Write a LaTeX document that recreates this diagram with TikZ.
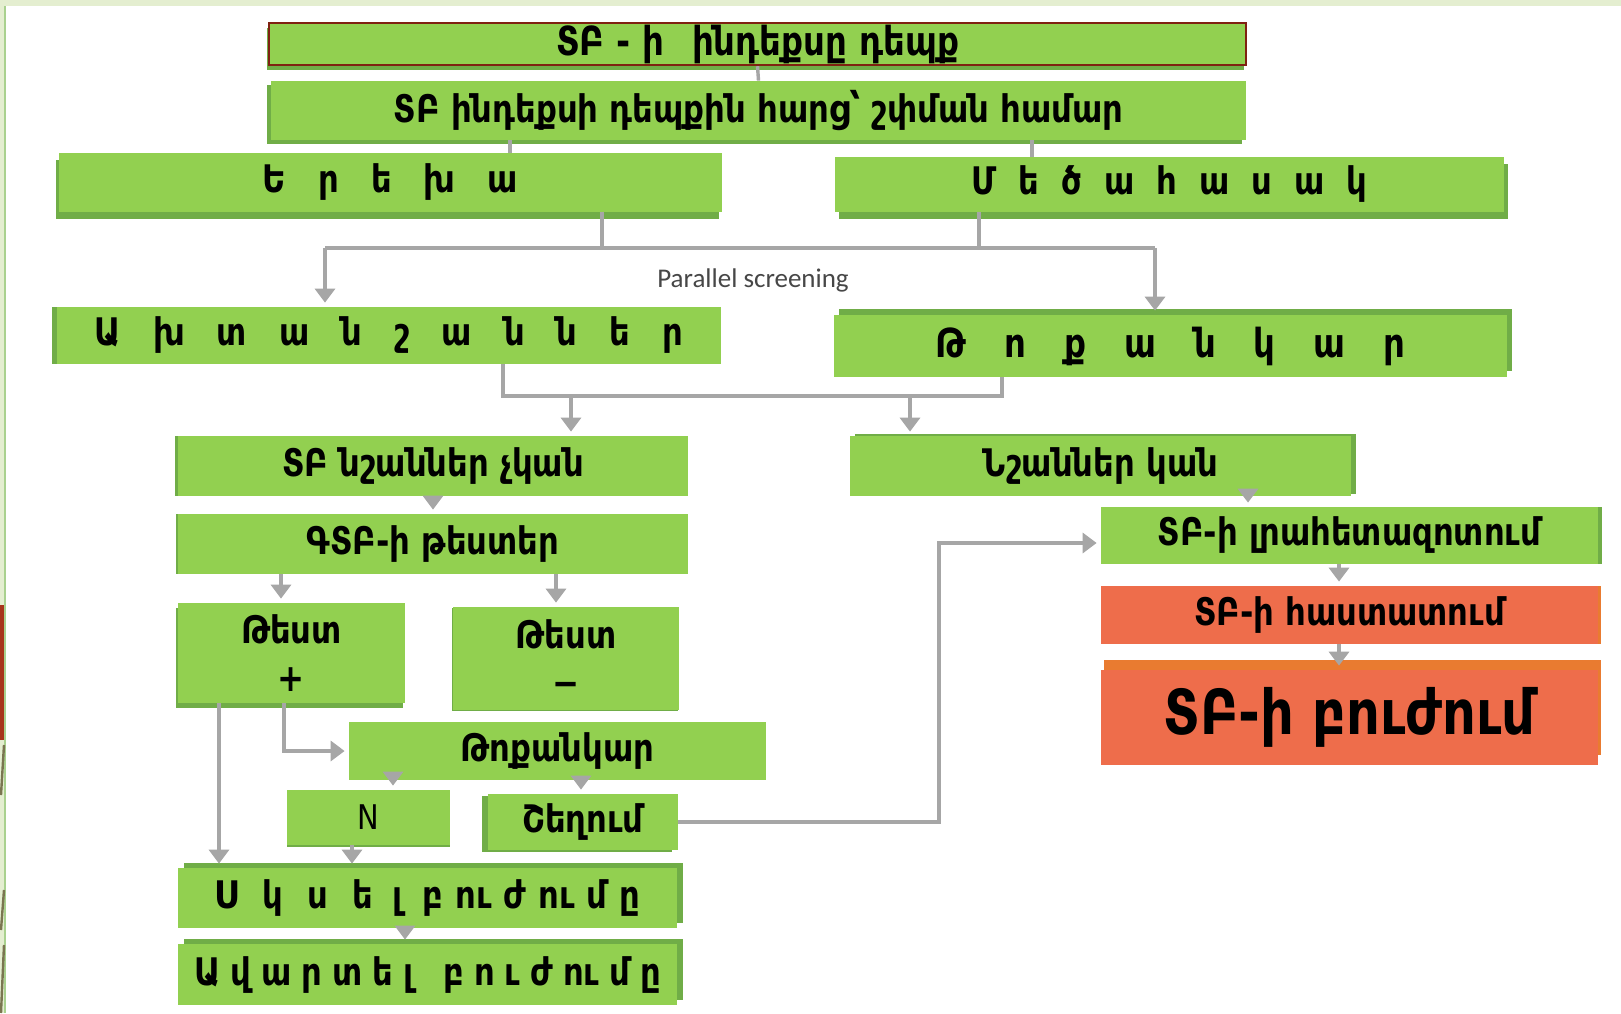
\documentclass[tikz,border=0pt]{standalone}
\usepackage{fontspec}
\usetikzlibrary{arrows.meta,positioning,calc,shadows}
\newfontfamily\armfont{DejaVu Sans}[FakeStretch=0.85]
\newfontfamily\capfont{Carlito}
\definecolor{tbgreen}{HTML}{92D050}
\definecolor{tbgreendk}{HTML}{70AD47}
\definecolor{tbred}{HTML}{EE6D4B}
\definecolor{tbredstrip}{HTML}{E97B30}
\definecolor{tbframe}{HTML}{7F2111}
\definecolor{linkgray}{HTML}{A6A6A6}
\definecolor{slidebg}{HTML}{E4EED0}
\definecolor{slideline}{HTML}{A9D18E}
\definecolor{slidered}{HTML}{A8341B}
\definecolor{slideolive}{HTML}{7A7550}
\newcommand{\gapp}[1]{\hspace{#1pt}}

\begin{document}
\begin{tikzpicture}[x=0.5pt,y=-0.5pt,
  box/.style={fill=tbgreen,inner sep=0pt,align=center,
              font=\armfont\bfseries\fontsize{19}{24}\selectfont},
  hot/.style={box,fill=tbred},
  wh/.style 2 args={minimum width=#1*0.5pt,minimum height=#2*0.5pt},
  backing/.style 2 args={general shadow={fill=tbgreendk,shadow xshift=#1,shadow yshift=#2}},
  link/.style={draw=linkgray,line width=1.7pt},
  arr/.style={link,-{Triangle[width=10pt,length=7pt]},shorten >=2pt},
  note/.style={font=\capfont\fontsize{13.5}{15}\selectfont,text=black!72}]

\useasboundingbox (0,0) rectangle (1621,1013);

% ===== slide frame =====
\fill[slidebg] (0,0) rectangle (1621,1013);
\fill[white] (6,6) rectangle (1621,1013);
\draw[slideline,line width=0.8pt] (5,6) -- (5,1013);
\fill[slidered] (0,605) rectangle (4,740);
\draw[slideolive,line width=1.2pt] (4,745) -- (1,795) (4,890) -- (1,930) (4,945) -- (1,1013);

% ===== top: index case =====
\node[box,wh={977}{42},draw=tbframe,line width=1.2pt,backing={-1pt}{-2.5pt},
      font=\armfont\bfseries\fontsize{20}{24}\selectfont] (title) at (757.5,44)
      {ՏԲ - ի\gapp{14}ինդեքսը դեպք};
\node[box,wh={975}{59},backing={-2pt}{-2pt}] (ask) at (758.5,110.5)
      {ՏԲ ինդեքսի դեպքին հարց՝ շփման համար};

% ===== child / adult =====
\node[box,wh={663}{59},backing={-1.5pt}{-3.5pt}] (child) at (390.5,182.5)
      {Ե\gapp{16}ր\gapp{16}ե\gapp{16}խ\gapp{16}ա};
\node[box,wh={669}{55},backing={2pt}{-3.5pt}] (adult) at (1169.5,184.5)
      {Մ\gapp{11}ե\gapp{11}ծ\gapp{11}ա\gapp{11}հ\gapp{11}ա\gapp{11}ս\gapp{11}ա\gapp{11}կ};

% ===== parallel screening =====
\node[box,wh={664}{57},backing={-2.5pt}{0pt}] (symp) at (389,335.5)
      {Ա\gapp{16}խ\gapp{16}տ\gapp{16}ա\gapp{16}ն\gapp{16}շ\gapp{16}ա\gapp{16}ն\gapp{16}ն\gapp{16}ե\gapp{16}ր};
\node[box,wh={673}{62},backing={2.5pt}{3pt},font=\armfont\bfseries\fontsize{20}{24}\selectfont] (xray) at (1170.5,346)
      {Թ\gapp{19}ո\gapp{19}ք\gapp{19}ա\gapp{19}ն\gapp{19}կ\gapp{19}ա\gapp{19}ր};
\node[note] (par) at (753,280) {Parallel screening};

% ===== no signs branch =====
\node[box,wh={510}{60},backing={-1.5pt}{0pt}] (nosig) at (433,466) {ՏԲ նշաններ չկան};
\node[box,wh={510}{60},backing={-1pt}{0pt}] (gtests) at (433,544) {ԳՏԲ-ի թեստեր};
\node[box,wh={227}{100},backing={-1pt}{-2.5pt}] (pos) at (291.5,653) {Թեստ\\+};
\node[box,wh={226}{103},backing={-0.5pt}{-0.5pt}] (neg) at (566,658.5) {Թեստ\\−};
\node[box,wh={417}{58}] (xray2) at (557.5,751) {Թոքանկար};
\node[box,wh={163}{55},backing={0pt}{-1pt},font=\armfont\fontsize{17}{20}\selectfont] (nn) at (368.5,817.5) {N};
\node[box,wh={190}{56},backing={-3pt}{-1pt}] (dev) at (583,822) {Շեղում};
\node[box,wh={499}{60},backing={3pt}{2.5pt}] (start) at (427.5,898)
      {Ս\gapp{12}կ\gapp{12}ս\gapp{12}ե\gapp{10}լ\gapp{10}բ\gapp{6}ու\gapp{6}ժ\gapp{6}ու\gapp{6}մ\gapp{6}ը};
\node[box,wh={499}{61},backing={3pt}{2.5pt}] (finish) at (427.5,974.5)
      {Ա\gapp{5}վ\gapp{5}ա\gapp{5}ր\gapp{5}տ\gapp{5}ե\gapp{5}լ\gapp{15}բ\gapp{5}ո\gapp{5}ւ\gapp{5}ժ\gapp{5}ու\gapp{5}մ\gapp{5}ը};

% ===== signs branch =====
\node[box,wh={501}{60},backing={2.5pt}{1pt}] (sig) at (1100.5,466) {Նշաններ կան};
\node[box,wh={497}{57},backing={2pt}{0pt}] (rescreen) at (1349.5,535.5) {ՏԲ-ի լրահետազոտում};
\node[hot,wh={497}{58},general shadow={fill=tbredstrip,shadow xshift=1.5pt,shadow yshift=0pt}] (confirm) at (1349.5,615)
      {ՏԲ-ի հաստատում};
\node[hot,wh={497}{95},general shadow={fill=tbredstrip,shadow xshift=1.5pt,shadow yshift=5pt},
      font=\armfont\bfseries\fontsize{31}{34}\selectfont] (treat) at (1349.5,717.5) {ՏԲ-ի բուժում};

% ===== connectors =====
\coordinate (toChild) at (510,0);
\coordinate (toAdult) at (1032,0);
\coordinate (fromChild) at (602,248);
\coordinate (fromAdult) at (979,248);
\coordinate (busL) at (325,248);
\coordinate (busR) at (1155,248);
\coordinate (fromSymp) at (503,396);
\coordinate (fromXray) at (1002,396);
\coordinate (toNo) at (571,396);
\coordinate (toYes) at (910,396);
\coordinate (toPos) at (281,0);
\coordinate (toNeg) at (556,0);
\coordinate (posDown) at (219,0);
\coordinate (posSide) at (284,751);
\coordinate (toN) at (393,0);
\coordinate (toDev) at (581,0);
\coordinate (nDown) at (352,0);
\coordinate (toEnd) at (405,0);
\coordinate (loopUp) at (939,543);
\coordinate (toRescreen) at (1248,0);
\coordinate (redDown) at (1339,0);

\draw[link] (title.south) -- (ask.north);
\draw[link] (toChild |- ask.south) -- (toChild |- child.north);
\draw[link] (toAdult |- ask.south) -- (toAdult |- adult.north);
\draw[link] (fromChild |- child.south) -- (fromChild);
\draw[link] (fromAdult |- adult.south) -- (fromAdult);
\draw[link] (busL) -- (busR);
\draw[arr] (busL) -- (busL |- symp.north);
\draw[arr] (busR) -- (busR |- xray.north);

\draw[link] (fromSymp |- symp.south) -- (fromSymp) -- (fromXray) -- (fromXray |- xray.south);
\draw[arr] (toNo) -- (toNo |- nosig.north);
\draw[arr] (toYes) -- (toYes |- sig.north);

\draw[arr] (nosig) -- (gtests);
\draw[arr] (toPos |- gtests.south) -- (toPos |- pos.north);
\draw[arr] (toNeg |- gtests.south) -- (toNeg |- neg.north);
\draw[arr] (posDown |- pos.south) -- (posDown |- start.north);
\draw[arr] (posSide |- pos.south) -- (posSide) -- (posSide -| xray2.west);
\draw[arr] (toN |- xray2.south) -- (toN |- nn.north);
\draw[arr] (toDev |- xray2.south) -- (toDev |- dev.north);
\draw[arr] (nDown |- nn.south) -- (nDown |- start.north);
\draw[arr] (toEnd |- start.south) -- (toEnd |- finish.north);
\draw[arr] (dev.east) -| (loopUp) -- (loopUp -| rescreen.west);

\draw[arr] (toRescreen |- sig.south) -- (toRescreen |- rescreen.north);
\draw[arr] (redDown |- rescreen.south) -- (redDown |- confirm.north);
\draw[arr] (redDown |- confirm.south) -- (redDown |- treat.north);

\end{tikzpicture}
\end{document}
